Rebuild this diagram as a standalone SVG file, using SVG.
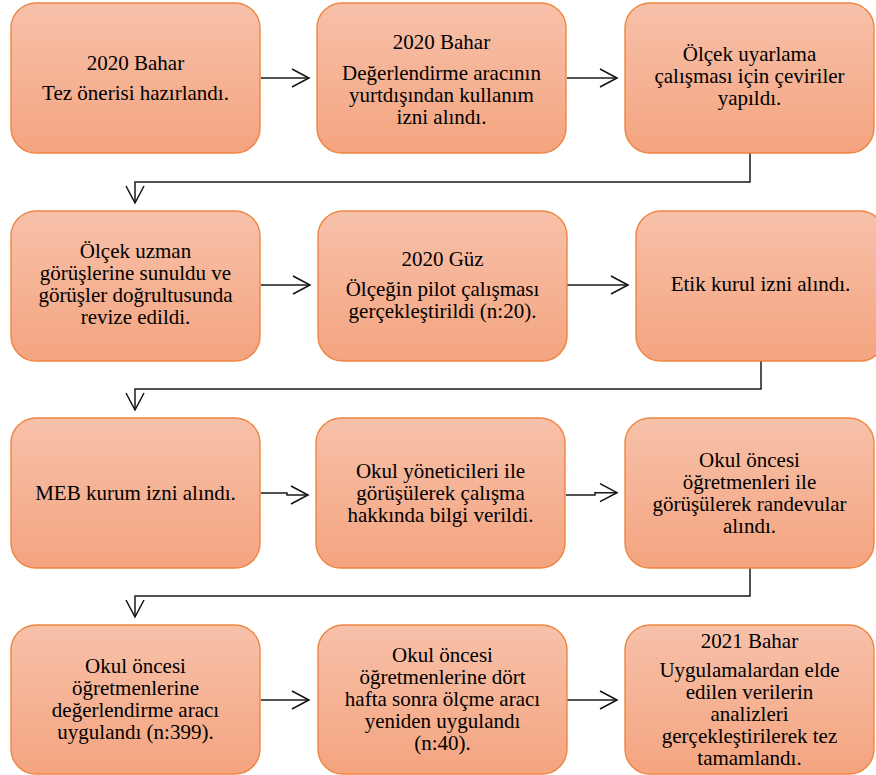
<svg xmlns="http://www.w3.org/2000/svg" width="876" height="775" viewBox="0 0 876 775">
<defs>
<linearGradient id="g" x1="0" y1="0" x2="0" y2="1">
<stop offset="0" stop-color="#F7C1AA"/>
<stop offset="1" stop-color="#F4A47F"/>
</linearGradient>
<marker id="ah" markerUnits="userSpaceOnUse" markerWidth="22" markerHeight="22" refX="17" refY="9" orient="auto" overflow="visible">
<path d="M0,0 L17,9 L0,18" fill="none" stroke="#111" stroke-width="1.5"/>
</marker>
<style>
.box{fill:url(#g);stroke:#EE8540;stroke-width:1.4}
.t{font-family:'Liberation Serif','Times New Roman',serif;font-size:21px;fill:#000;text-anchor:middle}
.c{fill:none;stroke:#1a1a1a;stroke-width:1.5;marker-end:url(#ah)}
</style>
</defs>
<rect width="876" height="775" fill="#fff"/>
<g id="connectors">
<path class="c" d="M261,78 H309"/>
<path class="c" d="M567,78 H617"/>
<path class="c" d="M750,153 V182 H135 V203"/>
<path class="c" d="M261,285 H310"/>
<path class="c" d="M567,285 H628"/>
<path class="c" d="M761,361 V389 H135 V410"/>
<path class="c" d="M261,493 H287 V495 H308"/>
<path class="c" d="M566,495 H595 V492.7 H617"/>
<path class="c" d="M750,568 V596 H135 V617"/>
<path class="c" d="M261,700 H309"/>
<path class="c" d="M567,700 H617"/>
</g>
<g font-family="Liberation Serif, Times New Roman, serif">
<g id="n1"><rect class="box" x="11" y="3" width="249" height="150" rx="25"/>
<text class="t" x="135.5" y="70">2020 Bahar</text>
<text class="t" x="135.5" y="100">Tez önerisi hazırlandı.</text></g>
<g id="n2"><rect class="box" x="317" y="3" width="249" height="150" rx="25"/>
<text class="t" x="441.5" y="49">2020 Bahar</text>
<text class="t" x="441.5" y="80">Değerlendirme aracının</text>
<text class="t" x="441.5" y="102">yurtdışından kullanım</text>
<text class="t" x="441.5" y="124">izni alındı.</text></g>
<g id="n3"><rect class="box" x="625" y="3" width="249" height="150" rx="25"/>
<text class="t" x="749.5" y="61">Ölçek uyarlama</text>
<text class="t" x="749.5" y="83">çalışması için çeviriler</text>
<text class="t" x="749.5" y="105">yapıldı.</text></g>
<g id="n4"><rect class="box" x="11" y="211" width="249" height="150" rx="25"/>
<text class="t" x="135.5" y="258">Ölçek uzman</text>
<text class="t" x="135.5" y="280">görüşlerine sunuldu ve</text>
<text class="t" x="135.5" y="302">görüşler doğrultusunda</text>
<text class="t" x="135.5" y="324">revize edildi.</text></g>
<g id="n5"><rect class="box" x="318" y="211" width="249" height="150" rx="25"/>
<text class="t" x="442.5" y="266">2020 Güz</text>
<text class="t" x="442.5" y="296">Ölçeğin pilot çalışması</text>
<text class="t" x="442.5" y="318">gerçekleştirildi (n:20).</text></g>
<g id="n6"><rect class="box" x="636" y="211" width="249" height="150" rx="25"/>
<text class="t" x="760.5" y="291">Etik kurul izni alındı.</text></g>
<g id="n7"><rect class="box" x="11" y="418" width="249" height="150" rx="25"/>
<text class="t" x="135.5" y="500">MEB kurum izni alındı.</text></g>
<g id="n8"><rect class="box" x="316" y="418" width="249" height="150" rx="25"/>
<text class="t" x="440.5" y="478">Okul yöneticileri ile</text>
<text class="t" x="440.5" y="500">görüşülerek çalışma</text>
<text class="t" x="440.5" y="522">hakkında bilgi verildi.</text></g>
<g id="n9"><rect class="box" x="625" y="418" width="249" height="150" rx="25"/>
<text class="t" x="749.5" y="467">Okul öncesi</text>
<text class="t" x="749.5" y="489">öğretmenleri ile</text>
<text class="t" x="749.5" y="511">görüşülerek randevular</text>
<text class="t" x="749.5" y="533">alındı.</text></g>
<g id="n10"><rect class="box" x="11" y="625" width="249" height="149" rx="25"/>
<text class="t" x="135.5" y="673">Okul öncesi</text>
<text class="t" x="135.5" y="695">öğretmenlerine</text>
<text class="t" x="135.5" y="717">değerlendirme aracı</text>
<text class="t" x="135.5" y="739">uygulandı (n:399).</text></g>
<g id="n11"><rect class="box" x="318" y="625" width="249" height="149" rx="25"/>
<text class="t" x="442.5" y="662">Okul öncesi</text>
<text class="t" x="442.5" y="684">öğretmenlerine dört</text>
<text class="t" x="442.5" y="706">hafta sonra ölçme aracı</text>
<text class="t" x="442.5" y="728">yeniden uygulandı</text>
<text class="t" x="442.5" y="750">(n:40).</text></g>
<g id="n12"><rect class="box" x="625" y="625" width="249" height="149" rx="25"/>
<text class="t" x="749.5" y="648">2021 Bahar</text>
<text class="t" x="749.5" y="677">Uygulamalardan elde</text>
<text class="t" x="749.5" y="699">edilen verilerin</text>
<text class="t" x="749.5" y="721">analizleri</text>
<text class="t" x="749.5" y="743">gerçekleştirilerek tez</text>
<text class="t" x="749.5" y="765">tamamlandı.</text></g>
</g>
</svg>
